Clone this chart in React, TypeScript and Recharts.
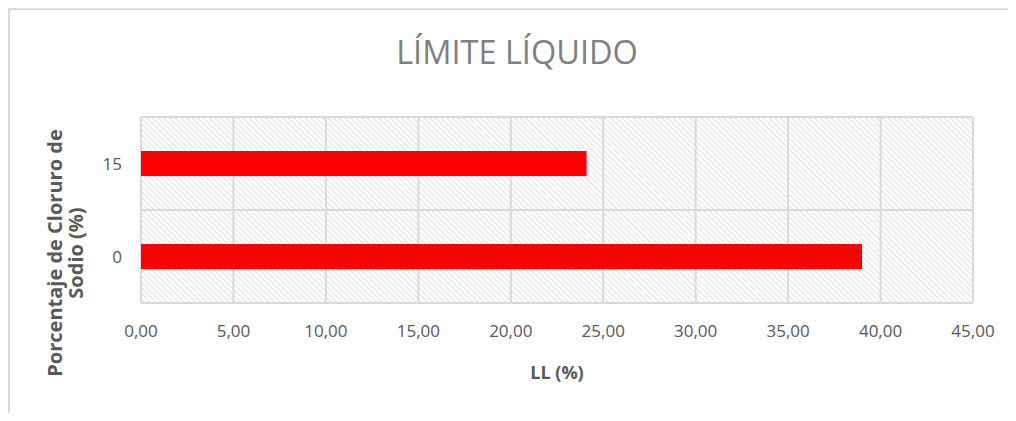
import { BarChart, Bar, XAxis, YAxis, CartesianGrid } from 'recharts';

// Datos
const categories = ['0', '15'];
const llValues = [39.0, 24.1];
const xTicks = [0, 5, 10, 15, 20, 25, 30, 35, 40, 45];

const data = categories.map((category, i) => ({ category, ll: llValues[i] }));

const FONT = '"Open Sans", "Liberation Sans", sans-serif';
const formatTick = (v: number) => v.toFixed(2).replace('.', ',');

export default function App() {
  return (
    <div
      style={{
        position: 'relative',
        width: 1006,
        height: 403,
        borderTop: '2px solid #d9d9d9',
        borderLeft: '2px solid #d9d9d9',
        background: '#fff',
        fontFamily: FONT,
      }}
    >
      <svg
        width={1006}
        height={403}
        style={{ position: 'absolute', left: 0, top: 0, pointerEvents: 'none' }}
      >
        <defs>
          <pattern
            id="hatch"
            width={4}
            height={4}
            patternUnits="userSpaceOnUse"
            patternTransform="rotate(-45)"
          >
            <rect width={4} height={4} fill="#ffffff" />
            <line x1={0} y1={0} x2={0} y2={4} stroke="#d6d6d6" strokeWidth={1.5} />
          </pattern>
        </defs>
      </svg>

      <BarChart
        width={1006}
        height={403}
        data={data}
        layout="vertical"
        margin={{ top: 107, right: 43, left: 0, bottom: 80 }}
      >
        <CartesianGrid
          fill="url(#hatch)"
          fillOpacity={1}
          stroke="#d9d9d9"
          strokeWidth={2}
          horizontalCoordinatesGenerator={({ offset }: any) => [
            offset.top,
            offset.top + offset.height / 2,
            offset.top + offset.height,
          ]}
        />
        <XAxis
          type="number"
          domain={[0, 45]}
          ticks={xTicks}
          tickFormatter={formatTick}
          height={30}
          axisLine={false}
          tickLine={false}
          tickSize={0}
          tickMargin={22}
          interval={0}
          tick={{ fill: '#595959', fontSize: 17, fontFamily: FONT }}
        />
        <YAxis
          type="category"
          dataKey="category"
          reversed
          width={131}
          axisLine={false}
          tickLine={false}
          tickSize={0}
          tickMargin={19}
          tick={{ fill: '#595959', fontSize: 17, fontFamily: FONT }}
        />
        <Bar dataKey="ll" fill="#ff0000" barSize={25} isAnimationActive={false} />
      </BarChart>

      <svg
        width={1006}
        height={403}
        style={{ position: 'absolute', left: 0, top: 0, pointerEvents: 'none' }}
      >
        <text x={507} y={54} textAnchor="middle" fill="#808080" fontSize={32.5} fontFamily={FONT}>
          LÍMITE LÍQUIDO
        </text>
        <text x={547} y={369} textAnchor="middle" fill="#595959" fontSize={18} fontWeight="bold" fontFamily={FONT}>
          LL (%)
        </text>
        <text
          transform="translate(52,243) rotate(-90)"
          textAnchor="middle"
          fill="#595959"
          fontSize={20}
          fontWeight="bold"
          fontFamily={FONT}
        >
          Porcentaje de Cloruro de
        </text>
        <text
          transform="translate(73,243) rotate(-90)"
          textAnchor="middle"
          fill="#595959"
          fontSize={20}
          fontWeight="bold"
          fontFamily={FONT}
        >
          Sodio (%)
        </text>
      </svg>
    </div>
  );
}
